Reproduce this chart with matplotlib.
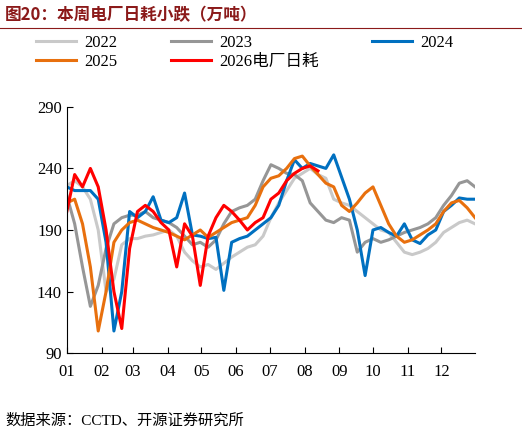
import matplotlib
matplotlib.use("Agg")
import matplotlib.pyplot as plt
import numpy as np

plt.rcParams['font.family'] = ['Liberation Serif', 'Noto Sans CJK SC', 'DejaVu Sans']

months = ['01','02','03','04','05','06','07','08','09','10','11','12']
month_start = [1,32,60,91,121,152,182,213,244,274,305,335]

s2022 = [226,230,225,215,190,140,150,178,183,183,185,186,188,190,185,172,165,160,162,158,163,168,172,176,178,185,200,212,222,232,236,240,235,232,215,212,210,205,200,195,190,188,180,172,170,172,175,180,188,192,196,198,195]
s2023 = [218,195,160,128,145,175,195,200,202,202,205,200,198,196,192,185,178,180,176,182,195,205,208,210,215,230,243,240,236,235,230,212,205,198,196,200,198,172,180,183,180,182,185,188,190,192,195,200,210,218,228,230,225]
s2024 = [225,222,222,222,215,180,108,140,205,200,205,217,198,196,200,220,186,185,183,184,141,180,183,185,190,195,200,210,230,247,240,244,242,240,251,233,215,190,153,190,192,188,185,195,182,179,186,190,205,210,216,215,215]
s2025 = [212,215,195,160,108,140,180,190,196,198,195,192,190,188,185,182,186,190,184,188,192,196,198,200,210,225,232,234,240,248,250,242,235,228,225,210,205,212,220,225,210,195,185,180,182,186,190,195,205,212,214,208,200]
s2026 = [205,235,225,240,225,190,140,110,175,205,210,205,196,190,160,195,185,145,185,200,210,205,198,190,196,200,215,220,230,236,240,242,238]

fig = plt.figure(figsize=(5.22,4.36), dpi=100)
ax = fig.add_axes([0.128,0.19,0.782,0.565])

names = ['2022','2023','2024','2025','2026电厂日耗']
cols = ['#c9c9c9','#969696','#0070c0','#e8700e','#ff0000']
data = [s2022,s2023,s2024,s2025,s2026]
handles = []
for name, c, vals in zip(names, cols, data):
    x = 1 + 7*np.arange(len(vals))
    h, = ax.plot(x, vals, color=c, lw=2.2, label=name)
    handles.append(h)

ax.set_xlim(1,365)
ax.set_ylim(90,290)
ax.set_yticks([90,140,190,240,290])
ax.set_xticks(month_start)
ax.set_xticklabels(months)
ax.tick_params(direction='in', labelsize=12, length=4)
ax.tick_params(axis='x', pad=8)
for s in ['top','right']:
    ax.spines[s].set_visible(False)

order = [0,3,1,4,2]
fig.legend(handles=[handles[i] for i in order], labels=[names[i] for i in order], loc='upper left',
           bbox_to_anchor=(0.04,0.955), ncol=3, frameon=False, fontsize=12, handlelength=2.4,
           columnspacing=3.2, handletextpad=0.5, labelspacing=0.2)

fig.text(0.01,0.965,'图20：本周电厂日耗小跌（万吨）', color='#8b1a1a', fontsize=12, fontweight='bold',
         family=['Noto Sans CJK SC'], va='center')
fig.add_artist(plt.Line2D([0.0,1.0],[0.935,0.935], color='#8b1a1a', lw=0.8))
fig.text(0.01,0.035,'数据来源：CCTD、开源证券研究所', fontsize=11, family=['Liberation Serif','Noto Sans CJK SC'], va='center')

fig.savefig('out.png', dpi=100)
